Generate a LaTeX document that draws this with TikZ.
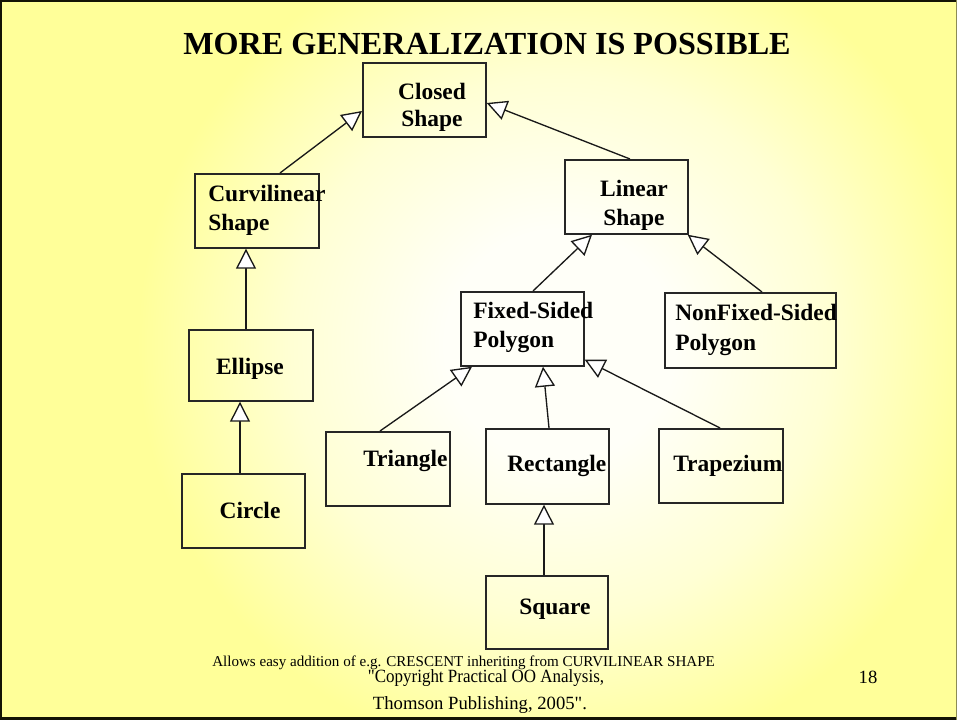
\documentclass[tikz,border=0pt]{standalone}
\usepackage{graphicx}
\usepackage{fontspec}
\setmainfont{Liberation Serif}
\newfontfamily\plainserif{Liberation Serif}
\usetikzlibrary{arrows.meta,calc}

\definecolor{bgedge}{RGB}{255,255,153}
\definecolor{bgmid}{RGB}{255,255,212}
\definecolor{bgcenter}{RGB}{255,255,248}
\definecolor{frameink}{RGB}{20,20,5}

% soft radial fill of the slide (radius 25bp = circle radius)
\pgfdeclareradialshading{slidebg}{\pgfpoint{0bp}{0bp}}{%
  color(0bp)=(bgcenter); color(6bp)=(bgcenter); color(14bp)=(bgmid);
  color(22bp)=(bgedge); color(25bp)=(bgedge)}

\tikzset{
  classbox/.style 2 args={draw=black!85, line width=1.3pt, inner sep=0pt,
    anchor=north west, minimum width=#1*0.75pt, minimum height=#2*0.75pt},
  lbl/.style={inner sep=0pt, font=\fontsize{17.6}{21}\selectfont\bfseries},
  gen/.style={draw=black!90, line width=1pt,
    -{Triangle[fill=white, length=15pt, width=15pt, line join=miter]}},
  foot/.style={inner sep=0pt, font=\plainserif\fontsize{14}{17}\selectfont},
}

\begin{document}
\begin{tikzpicture}[x=0.75pt, y=-0.75pt]
\useasboundingbox (0,0) rectangle (957,720);

% background
\begin{scope}
  \clip (0,0) rectangle (957,720);
  \fill[bgedge] (0,0) rectangle (957,720);
  \shade[shading=slidebg] (560,345) circle (480);
\end{scope}
\draw[frameink, line width=1.6pt] (1,1) -- (957,1);
\draw[frameink, line width=1.6pt] (1,0) -- (1,720);
\draw[frameink, line width=2pt] (0,718.5) -- (957,718.5);
\draw[black!45!bgedge, line width=0.8pt] (956.5,0) -- (956.5,720);

% title
\node[inner sep=0pt, anchor=base, font=\fontsize{24.1}{28}\selectfont\bfseries]
  (title) at (487,55) {MORE GENERALIZATION IS POSSIBLE};

% class boxes
\node[classbox={123}{74}] (closed)   at (362,62)  {};
\node[classbox={124}{74}] (curv)     at (194,173) {};
\node[classbox={123}{74}] (linear)   at (564,159) {};
\node[classbox={123}{74}] (fixed)    at (460,291) {};
\node[classbox={171}{75}] (nonfixed) at (664,292) {};
\node[classbox={124}{71}] (ellipse)  at (188,329) {};
\node[classbox={123}{74}] (circle)   at (181,473) {};
\node[classbox={124}{74}] (triangle) at (325,431) {};
\node[classbox={123}{75}] (rect)     at (485,428) {};
\node[classbox={124}{74}] (trap)     at (658,428) {};
\node[classbox={122}{73}] (square)   at (485,575) {};

% class names
\node[lbl, anchor=base] (closed-a) at (432,100) {Closed};
\node[lbl, anchor=base] (closed-b) at (432,127) {Shape};
\node[lbl, anchor=base west] (curv-a) at (208,202) {Curvilinear};
\node[lbl, anchor=base west] (curv-b) at (208,231) {Shape};
\node[lbl, anchor=base] (linear-a) at (634,197) {Linear};
\node[lbl, anchor=base] (linear-b) at (634,226) {Shape};
\node[lbl, anchor=base west] (fixed-a) at (473,319) {Fixed-Sided};
\node[lbl, anchor=base west] (fixed-b) at (473,348) {Polygon};
\node[lbl, anchor=base west] (nonfixed-a) at (675,321) {NonFixed-Sided};
\node[lbl, anchor=base west] (nonfixed-b) at (675,350) {Polygon};
\node[lbl, anchor=base] (ellipse-a) at (250,374) {Ellipse};
\node[lbl, anchor=base] (circle-a) at (250,518) {Circle};
\node[lbl, anchor=base west] (triangle-a) at (363,466) {Triangle};
\node[lbl, anchor=base west] (rect-a) at (507,471) {Rectangle};
\node[lbl, anchor=base west] (trap-a) at (673,471) {Trapezium};
\node[lbl, anchor=base west] (square-a) at (519,614) {Square};

% generalization connectors (child -> parent)
\draw[gen] ($(curv.north west)+(86,0)$) -- ($(closed.north west)+(0,49)$);
\draw[gen] ($(linear.north west)+(66,0)$) -- ($(closed.north east)+(0,41)$);
\draw[gen] ($(ellipse.north west)+(58,0)$) -- ($(curv.south west)+(52,0)$);
\draw[gen] ($(circle.north west)+(59,0)$) -- ($(ellipse.south west)+(52,0)$);
\draw[gen] ($(fixed.north west)+(73,0)$) -- ($(linear.south west)+(28,0)$);
\draw[gen] ($(nonfixed.north west)+(98,0)$) -- ($(linear.south east)+(-1,0)$);
\draw[gen] ($(triangle.north west)+(55,0)$) -- ($(fixed.south west)+(12,0)$);
\draw[gen] ($(rect.north west)+(64,0)$) -- ($(fixed.south west)+(83,0)$);
\draw[gen] ($(trap.north west)+(62,0)$) -- ($(fixed.south east)+(0,-7)$);
\draw[gen] ($(square.north west)+(59,0)$) -- ($(rect.south west)+(59,0)$);

% footer
\node[inner sep=0pt, anchor=base west, font=\fontsize{11.3}{13}\selectfont]
  (note) at (212,666)
  {Allows easy addition of e.g. CRESCENT inheriting from CURVILINEAR SHAPE};
\node[foot, anchor=base] (copy-a) at (486,682)
  {\scalebox{0.91}[1]{"Copyright Practical OO Analysis,}};
\node[foot, anchor=base] (copy-b) at (480,709) {Thomson Publishing, 2005".};
\node[foot, anchor=base] (pageno) at (868,683) {18};
\end{tikzpicture}
\end{document}
